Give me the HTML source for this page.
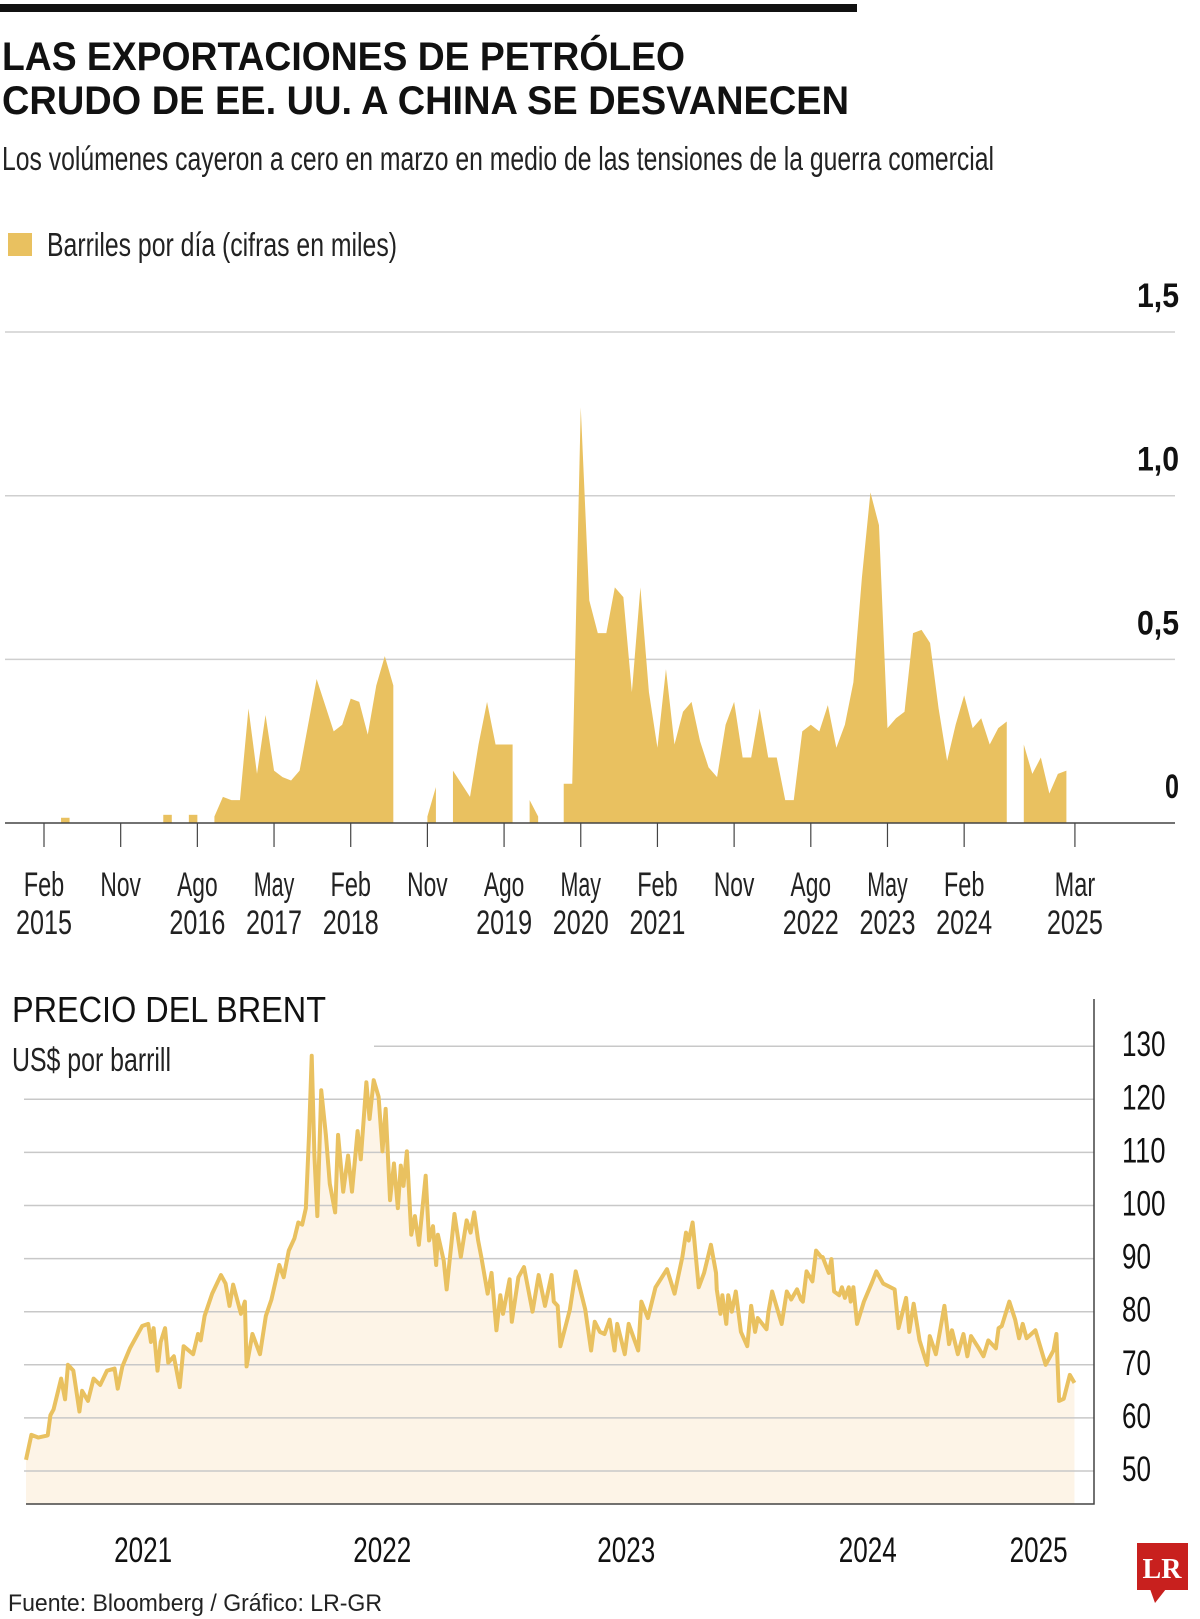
<!DOCTYPE html>
<html><head><meta charset="utf-8"><style>
html,body{margin:0;padding:0;background:#fff;}
svg{display:block;}
text{font-family:"Liberation Sans Narrow","Liberation Sans",sans-serif;}
</style></head><body>
<svg id="chart" width="1200" height="1619" viewBox="0 0 1200 1619" xmlns="http://www.w3.org/2000/svg">
<rect x="0" y="4" width="857" height="8" fill="#111"/>
<text x="2" y="70" font-size="40" font-weight="bold" fill="#111" textLength="683" lengthAdjust="spacingAndGlyphs">LAS EXPORTACIONES DE PETRÓLEO</text>
<text x="2" y="114" font-size="40" font-weight="bold" fill="#111" textLength="847" lengthAdjust="spacingAndGlyphs">CRUDO DE EE. UU. A CHINA SE DESVANECEN</text>
<text x="2" y="170" font-size="33" fill="#222" textLength="992" lengthAdjust="spacingAndGlyphs">Los volúmenes cayeron a cero en marzo en medio de las tensiones de la guerra comercial</text>
<rect x="8" y="233" width="24" height="23" fill="#e9c160"/>
<text x="47" y="256" font-size="33" fill="#222" textLength="350" lengthAdjust="spacingAndGlyphs">Barriles por día (cifras en miles)</text>
<g id="topchart"></g>
<text x="12" y="1022" font-size="36" fill="#111" textLength="314" lengthAdjust="spacingAndGlyphs">PRECIO DEL BRENT</text>
<text x="12" y="1071" font-size="33" fill="#222" textLength="159" lengthAdjust="spacingAndGlyphs">US$ por barrill</text>
<g id="bottomchart"></g>
<text x="8" y="1611" font-size="24" fill="#222" textLength="374" lengthAdjust="spacingAndGlyphs" style="font-family:'Liberation Sans',sans-serif">Fuente: Bloomberg / Gráfico: LR-GR</text>
<g>
<rect x="1137" y="1543" width="51" height="47" fill="#c8201e"/>
<polygon points="1150,1589 1166,1589 1155,1603" fill="#c8201e"/>
<text x="1162" y="1578" font-size="28" font-weight="bold" fill="#fff" text-anchor="middle" style="font-family:'Liberation Serif',serif">LR</text>
</g>
</svg>
<script>
// ---- Top chart data (monthly, Feb 2015 = index 0) ----
const exportValues = [null,null,0.016,0.016,null,null,null,null,null,null,null,null,null,null,0.025,0.025,null,0.025,0.025,null,
0.02,0.08,0.07,0.07,0.35,0.15,0.33,0.16,0.14,0.13,0.16,0.30,0.44,0.36,0.28,0.30,0.38,0.37,0.27,0.42,
0.51,0.42,null,null,null,0.02,0.11,null,0.16,0.12,0.08,0.24,0.37,0.24,0.24,0.24,null,0.07,0.02,null,
null,0.12,0.12,1.27,0.68,0.58,0.58,0.72,0.69,0.40,0.72,0.40,0.23,0.47,0.24,0.34,0.37,0.25,0.17,0.14,
0.30,0.37,0.20,0.20,0.35,0.20,0.20,0.07,0.07,0.28,0.30,0.28,0.36,0.23,0.30,0.43,0.75,1.01,0.91,0.29,
0.32,0.34,0.58,0.59,0.55,0.35,0.19,0.30,0.39,0.29,0.32,0.24,0.29,0.31,null,0.24,0.15,0.20,0.09,0.15,
0.16,null];
const topTickMonths = [0,9,18,27,36,45,54,63,72,81,90,99,108,121];
const topTickMonthLabels = ["Feb","Nov","Ago","May","Feb","Nov","Ago","May","Feb","Nov","Ago","May","Feb","Mar"];
const topTickYearLabels = ["2015","","2016","2017","2018","","2019","2020","2021","","2022","2023","2024","2025"];
const topYTicks = [0,0.5,1.0,1.5];
const topYLabels = ["0","0,5","1,0","1,5"];

// ---- Brent data ----
const brentDates = [2021.000,2021.022,2021.050,2021.089,2021.100,2021.113,2021.144,2021.160,2021.172,2021.194,2021.219,2021.230,2021.254,2021.277,2021.304,2021.332,2021.363,2021.376,2021.395,2021.426,2021.476,2021.501,2021.512,2021.523,2021.539,2021.552,2021.570,2021.583,2021.606,2021.630,2021.646,2021.685,2021.705,2021.716,2021.732,2021.763,2021.799,2021.818,2021.834,2021.849,2021.881,2021.897,2021.904,2021.928,2021.959,2021.983,2022.006,2022.038,2022.056,2022.077,2022.100,2022.116,2022.132,2022.147,2022.160,2022.171,2022.182,2022.194,2022.210,2022.229,2022.245,2022.267,2022.279,2022.300,2022.320,2022.336,2022.359,2022.372,2022.395,2022.408,2022.425,2022.445,2022.461,2022.474,2022.492,2022.508,2022.524,2022.536,2022.547,2022.561,2022.579,2022.594,2022.610,2022.638,2022.652,2022.668,2022.681,2022.688,2022.712,2022.724,2022.756,2022.782,2022.806,2022.822,2022.837,2022.853,2022.866,2022.892,2022.908,2022.928,2022.944,2022.955,2022.982,2022.991,2023.018,2023.041,2023.076,2023.101,2023.127,2023.154,2023.163,2023.179,2023.190,2023.229,2023.253,2023.292,2023.316,2023.331,2023.352,2023.371,2023.392,2023.412,2023.423,2023.454,2023.470,2023.509,2023.522,2023.549,2023.580,2023.627,2023.658,2023.690,2023.705,2023.716,2023.732,2023.737,2023.757,2023.779,2023.807,2023.828,2023.831,2023.846,2023.854,2023.870,2023.878,2023.893,2023.909,2023.930,2023.956,2023.972,2023.988,2023.999,2024.035,2024.043,2024.058,2024.097,2024.118,2024.136,2024.160,2024.176,2024.184,2024.199,2024.223,2024.238,2024.259,2024.265,2024.290,2024.301,2024.312,2024.333,2024.344,2024.356,2024.372,2024.380,2024.391,2024.406,2024.434,2024.469,2024.485,2024.513,2024.560,2024.576,2024.607,2024.620,2024.638,2024.662,2024.693,2024.704,2024.729,2024.764,2024.783,2024.795,2024.819,2024.842,2024.858,2024.873,2024.905,2024.924,2024.944,2024.975,2024.986,2024.999,2025.030,2025.054,2025.070,2025.085,2025.101,2025.137,2025.179,2025.211,2025.223,2025.234,2025.253,2025.278,2025.297];
const brentPrices = [52.1,56.8,56.3,56.7,60.5,61.6,67.4,63.5,70.0,68.9,61.2,65.1,63.2,67.4,66.2,68.9,69.3,65.5,69.7,73.1,77.3,77.7,74.3,76.9,68.9,74.3,76.9,70.4,71.6,65.8,73.5,72.0,75.8,74.6,79.2,83.4,86.9,85.3,81.1,85.1,79.6,81.9,69.7,75.8,72.0,79.2,82.3,88.8,86.5,91.5,93.8,96.8,96.4,99.5,113.3,128.2,109.4,98.0,121.7,113.3,104.1,98.7,113.3,102.6,109.4,102.6,114.0,108.7,123.2,116.3,123.6,120.5,110.2,118.2,101.0,107.9,99.5,107.5,103.7,110.2,94.5,98.0,92.6,105.6,93.4,96.1,88.8,94.5,89.6,84.2,98.4,90.3,97.2,94.9,98.7,93.4,90.3,83.4,87.3,76.5,83.1,79.6,86.1,78.1,86.5,88.4,80.0,86.9,81.1,86.9,81.9,81.1,73.5,80.4,87.6,80.4,72.7,78.1,76.2,75.8,78.5,72.7,77.7,72.0,77.7,72.7,81.9,78.8,84.6,88.0,83.4,90.3,94.9,93.4,96.8,94.5,84.6,87.3,92.6,87.3,84.2,79.6,83.1,77.7,83.1,80.0,83.8,76.2,73.5,81.1,76.2,78.8,76.7,80.0,83.8,77.7,83.8,82.3,84.2,82.3,81.9,87.6,85.7,91.5,90.3,90.3,87.3,89.9,83.8,83.1,84.6,82.6,84.6,81.9,84.6,77.7,81.9,85.7,87.6,85.3,84.2,76.9,82.6,76.2,81.5,74.6,70.0,75.4,72.0,81.1,73.9,76.5,72.0,75.8,71.6,75.4,73.1,71.6,74.6,73.1,76.9,77.3,81.9,78.5,75.0,77.7,75.0,76.5,70.0,72.7,75.8,63.2,63.6,68.1,66.6,60.6,60.5];
const brentYTicks = [50,60,70,80,90,100,110,120,130];
const brentYearLabels = ["2021","2022","2023","2024","2025"];
const brentYearPositions = [2021.48,2022.46,2023.46,2024.45,2025.15];

const NS = "http://www.w3.org/2000/svg";
function mk(tag, attrs, parent){const e=document.createElementNS(NS,tag);for(const k in attrs)e.setAttribute(k,attrs[k]);parent.appendChild(e);return e;}
function squeeze(el, perChar){el.setAttribute('textLength', el.textContent.length*perChar);el.setAttribute('lengthAdjust','spacingAndGlyphs');}

// ---- Top chart ----
const topG = document.getElementById('topchart');
const tx = m => 44 + m*8.52;
const ty = v => 823 - v*327.3;
topYTicks.forEach((v,i)=>{
  if(v>0){const l=mk('line',{x1:5,x2:1175,y1:ty(v),y2:ty(v),stroke:'#cfcfcf','stroke-width':1.5},topG);
  
  }
  const t=mk('text',{x:1179,y:ty(v)-25,'font-size':34,'font-weight':'bold','text-anchor':'end',fill:'#111'},topG);
  t.textContent=topYLabels[i];
  squeeze(t,14);
  
  
});
let seg=[];
function flush(){
  if(!seg.length)return;
  let d;
  if(seg.length===1){const m=seg[0];d=`M${tx(m-0.5)},${ty(0)}L${tx(m-0.5)},${ty(exportValues[m])}L${tx(m+0.5)},${ty(exportValues[m])}L${tx(m+0.5)},${ty(0)}Z`;}
  else{d=`M${tx(seg[0])},${ty(0)}`+seg.map(m=>`L${tx(m)},${ty(exportValues[m])}`).join('')+`L${tx(seg[seg.length-1])},${ty(0)}Z`;}
  const p=mk('path',{d:d,fill:'#e9c160'},topG);
  
  
  seg=[];
}
exportValues.forEach((v,m)=>{if(v===null)flush();else seg.push(m);});flush();
const base=mk('line',{x1:5,x2:1175,y1:ty(0),y2:ty(0),stroke:'#444','stroke-width':1.5},topG);


topTickMonths.forEach((m,i)=>{
  const l=mk('line',{x1:tx(m),x2:tx(m),y1:ty(0),y2:ty(0)+24,stroke:'#444','stroke-width':1.2},topG);
  
  
  const t=mk('text',{x:tx(m),y:896,'font-size':34,'text-anchor':'middle',fill:'#222'},topG);
  t.textContent=topTickMonthLabels[i];
  squeeze(t,13.5);
  
  
  if(topTickYearLabels[i]){
    const y=mk('text',{x:tx(m),y:934,'font-size':34,'text-anchor':'middle',fill:'#222'},topG);
    y.textContent=topTickYearLabels[i];
    squeeze(y,14);
    
    
  }
});

// ---- Brent chart ----
const botG=document.getElementById('bottomchart');
const bx = t => 26 + (t-2021)*244;
const by = v => 1471 - (v-50)*5.31;
const axisY=1504;
const nB = Math.min(brentDates.length, brentPrices.length);
let ad=`M${bx(brentDates[0])},${axisY}`;
for(let i=0;i<nB;i++){ad+=`L${bx(brentDates[i])},${by(brentPrices[i])}`;}
ad+=`L${bx(brentDates[nB-1])},${axisY}Z`;
const area=mk('path',{d:ad,fill:'#fdf4e7'},botG);


brentYTicks.forEach(v=>{
  const x1 = v===130?374:24;
  const l=mk('line',{x1:x1,x2:1094,y1:by(v),y2:by(v),stroke:'#c8c8c8','stroke-width':1.5},botG);
  
  
  const t=mk('text',{x:1122,y:by(v)+10,'font-size':35,fill:'#111'},botG);
  t.textContent=String(v);
  squeeze(t,14.5);
  
  
});
let ld='';
for(let i=0;i<nB;i++){ld+=(i?'L':'M')+bx(brentDates[i])+','+by(brentPrices[i]);}
const ln=mk('path',{d:ld,fill:'none',stroke:'#e9c160','stroke-width':4,'stroke-linejoin':'round'},botG);


const ax=mk('path',{d:`M26,${axisY}L1094,${axisY}L1094,999`,fill:'none',stroke:'#444','stroke-width':1.5},botG);


brentYearLabels.forEach((lab,i)=>{
  const t=mk('text',{x:bx(brentYearPositions[i]),y:1562,'font-size':35,'text-anchor':'middle',fill:'#111'},botG);
  t.textContent=lab;
  squeeze(t,14.5);
  
  
});
</script>
</body></html>
